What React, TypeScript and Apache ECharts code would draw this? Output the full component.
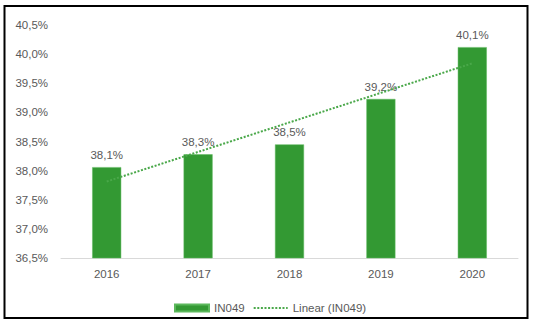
import React, { useEffect, useRef } from "react";
import * as echarts from "echarts";

const categories = ["2016", "2017", "2018", "2019", "2020"];
const values = [38.06, 38.28, 38.45, 39.23, 40.12];
const yTicks = { min: 36.5, max: 40.5, interval: 0.5 };
const barName = "IN049";
const trendName = "Linear (IN049)";

function linearTrend(ys: number[]): number[] {
  const n = ys.length;
  const xs = ys.map((_, i) => i + 1);
  const mx = xs.reduce((a, b) => a + b, 0) / n;
  const my = ys.reduce((a, b) => a + b, 0) / n;
  let num = 0;
  let den = 0;
  for (let i = 0; i < n; i++) {
    num += (xs[i] - mx) * (ys[i] - my);
    den += (xs[i] - mx) * (xs[i] - mx);
  }
  const slope = num / den;
  const icpt = my - slope * mx;
  return xs.map((x) => icpt + slope * x);
}

const fmt = (v: number) => (Math.round(v * 10) / 10).toFixed(1).replace(".", ",") + "%";

export default function App() {
  const ref = useRef<HTMLDivElement>(null);
  useEffect(() => {
    if (!ref.current) return;
    const chart = echarts.init(ref.current, null, { renderer: "svg" });
    const font = "'Liberation Sans', Arial, sans-serif";
    chart.setOption({
      animation: false,
      backgroundColor: "#ffffff",
      textStyle: { fontFamily: font },
      graphic: [
        {
          type: "rect",
          shape: { x: 4.5, y: 6, width: 523, height: 312 },
          style: { fill: "none", stroke: "#000000", lineWidth: 2 },
          silent: true,
        },
      ],
      grid: { left: 61, right: 17, top: 25, bottom: 67, containLabel: false },
      legend: {
        left: 169,
        top: 297,
        itemWidth: 34,
        itemHeight: 7,
        itemGap: 8,
        textStyle: { color: "#595959", fontSize: 11.5, fontFamily: font },
        data: [
          { name: barName, icon: "rect" },
          { name: trendName, itemStyle: { opacity: 0 } },
        ],
      },
      xAxis: {
        type: "category",
        data: categories,
        axisLine: { show: true, lineStyle: { color: "#d9d9d9", width: 1 } },
        axisTick: { show: false },
        axisLabel: { color: "#595959", fontSize: 11.5, margin: 10 },
      },
      yAxis: {
        type: "value",
        min: yTicks.min,
        max: yTicks.max,
        interval: yTicks.interval,
        splitLine: { show: false },
        axisLine: { show: false },
        axisTick: { show: false },
        axisLabel: {
          color: "#595959",
          fontSize: 11.5,
          margin: 13,
          formatter: (v: number) => fmt(v),
        },
      },
      series: [
        {
          name: barName,
          type: "bar",
          data: values,
          barWidth: 29,
          itemStyle: { color: "#339933", borderColor: "#5cb85c", borderWidth: 0.5 },
          label: {
            show: true,
            position: "top",
            distance: 6,
            color: "#595959",
            fontSize: 11.5,
            formatter: (p: any) => fmt(p.value),
          },
          z: 2,
        },
        {
          name: trendName,
          type: "line",
          data: linearTrend(values),
          symbol: "none",
          lineStyle: { color: "#4aa84a", width: 2, type: [2, 1.6] },
          itemStyle: { color: "#4aa84a" },
          z: 3,
        },
      ],
    });
    return () => chart.dispose();
  }, []);
  return (
    <div
      ref={ref}
      style={{ position: "fixed", left: 0, top: 0, width: 535, height: 325 }}
    />
  );
}
